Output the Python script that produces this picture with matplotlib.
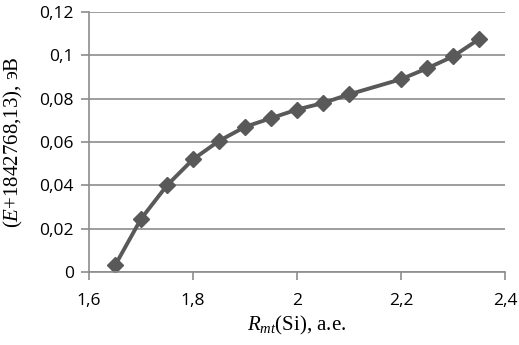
import matplotlib.pyplot as plt
from matplotlib.ticker import FuncFormatter

plt.rcParams["mathtext.fontset"] = "custom"
plt.rcParams["mathtext.it"] = "Liberation Serif:italic"
plt.rcParams["mathtext.rm"] = "Liberation Serif"

# R_mt(Si), a.e.
r_mt = [1.65, 1.70, 1.75, 1.80, 1.85, 1.90, 1.95, 2.00, 2.05, 2.10, 2.20, 2.25, 2.30, 2.35]
# (E + 1842768.13), eV
energy = [0.003, 0.0245, 0.040, 0.052, 0.0605, 0.067, 0.071, 0.075, 0.078, 0.082, 0.089, 0.094, 0.0995, 0.1075]

x_ticks = [1.6, 1.8, 2.0, 2.2, 2.4]
y_ticks = [0, 0.02, 0.04, 0.06, 0.08, 0.1, 0.12]


def comma_fmt(v, pos):
    s = f"{v:.2f}".rstrip("0").rstrip(".")
    return s.replace(".", ",")


fig = plt.figure(figsize=(5.19, 3.45), dpi=100)
ax = fig.add_axes([0.1715, 0.2116, 0.8015, 0.7534])

ax.plot(r_mt, energy, color="#595959", linewidth=2.8, marker="D",
        markersize=8, markerfacecolor="#595959", markeredgecolor="#595959")

ax.set_xlim(1.6, 2.4)
ax.set_ylim(0, 0.12)
ax.set_xticks(x_ticks)
ax.set_yticks(y_ticks)
ax.xaxis.set_major_formatter(FuncFormatter(comma_fmt))
ax.yaxis.set_major_formatter(FuncFormatter(comma_fmt))

ax.yaxis.grid(True, color="#8c8c8c", linewidth=1.2)
ax.set_axisbelow(True)
for side in ["top", "right"]:
    ax.spines[side].set_visible(False)
for side in ["left", "bottom"]:
    ax.spines[side].set_color("#8c8c8c")
    ax.spines[side].set_linewidth(1.2)

ax.tick_params(axis="both", direction="out", color="#8c8c8c", width=1.2,
               length=6, labelsize=12.5, labelcolor="black")
ax.tick_params(axis="x", pad=9)
ax.tick_params(axis="y", pad=5)
for lab in ax.get_xticklabels() + ax.get_yticklabels():
    lab.set_family("Open Sans")

ax.set_xlabel(r"$\mathit{R}_{\mathit{mt}}$(Si), а.е.", family="Liberation Serif",
              fontsize=15, labelpad=4)
ax.set_ylabel(r"($\mathit{E}$+1842768,13), эВ", family="Liberation Serif",
              fontsize=15, labelpad=10)

fig.savefig("out.png", dpi=100)
